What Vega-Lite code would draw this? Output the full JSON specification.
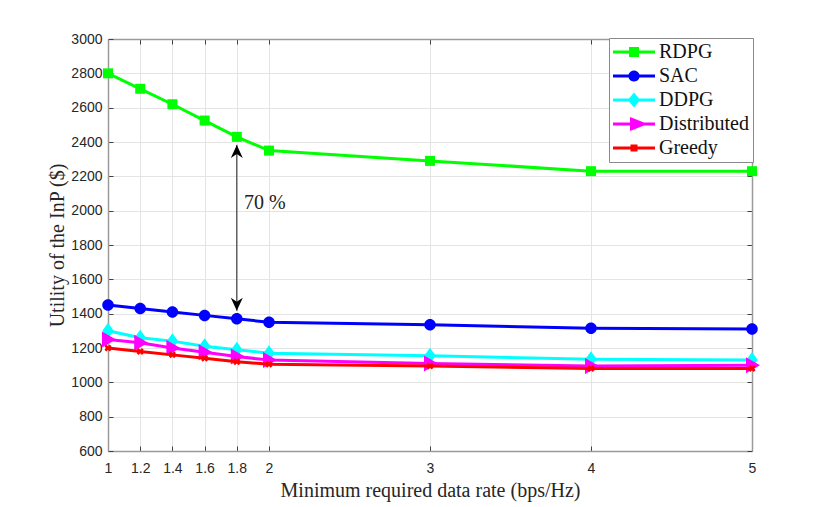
{
  "$schema": "https://vega.github.io/schema/vega-lite/v6.json",
  "background": "white",
  "autosize": "none",
  "padding": {"left": 108, "top": 39, "right": 78, "bottom": 56},
  "width": 644,
  "height": 412,
  "datasets": {
    "series": [
      {"rate": 1, "utility": 2800, "method": "RDPG"},
      {"rate": 1.2, "utility": 2710, "method": "RDPG"},
      {"rate": 1.4, "utility": 2620, "method": "RDPG"},
      {"rate": 1.6, "utility": 2525, "method": "RDPG"},
      {"rate": 1.8, "utility": 2430, "method": "RDPG"},
      {"rate": 2, "utility": 2350, "method": "RDPG"},
      {"rate": 3, "utility": 2290, "method": "RDPG"},
      {"rate": 4, "utility": 2230, "method": "RDPG"},
      {"rate": 5, "utility": 2230, "method": "RDPG"},
      {"rate": 1, "utility": 1450, "method": "SAC"},
      {"rate": 1.2, "utility": 1430, "method": "SAC"},
      {"rate": 1.4, "utility": 1410, "method": "SAC"},
      {"rate": 1.6, "utility": 1390, "method": "SAC"},
      {"rate": 1.8, "utility": 1370, "method": "SAC"},
      {"rate": 2, "utility": 1350, "method": "SAC"},
      {"rate": 3, "utility": 1335, "method": "SAC"},
      {"rate": 4, "utility": 1315, "method": "SAC"},
      {"rate": 5, "utility": 1310, "method": "SAC"},
      {"rate": 1, "utility": 1300, "method": "DDPG"},
      {"rate": 1.2, "utility": 1260, "method": "DDPG"},
      {"rate": 1.4, "utility": 1240, "method": "DDPG"},
      {"rate": 1.6, "utility": 1210, "method": "DDPG"},
      {"rate": 1.8, "utility": 1190, "method": "DDPG"},
      {"rate": 2, "utility": 1170, "method": "DDPG"},
      {"rate": 3, "utility": 1155, "method": "DDPG"},
      {"rate": 4, "utility": 1135, "method": "DDPG"},
      {"rate": 5, "utility": 1130, "method": "DDPG"},
      {"rate": 1, "utility": 1250, "method": "Distributed"},
      {"rate": 1.2, "utility": 1230, "method": "Distributed"},
      {"rate": 1.4, "utility": 1200, "method": "Distributed"},
      {"rate": 1.6, "utility": 1175, "method": "Distributed"},
      {"rate": 1.8, "utility": 1150, "method": "Distributed"},
      {"rate": 2, "utility": 1130, "method": "Distributed"},
      {"rate": 3, "utility": 1110, "method": "Distributed"},
      {"rate": 4, "utility": 1095, "method": "Distributed"},
      {"rate": 5, "utility": 1100, "method": "Distributed"},
      {"rate": 1, "utility": 1200, "method": "Greedy"},
      {"rate": 1.2, "utility": 1180, "method": "Greedy"},
      {"rate": 1.4, "utility": 1160, "method": "Greedy"},
      {"rate": 1.6, "utility": 1140, "method": "Greedy"},
      {"rate": 1.8, "utility": 1120, "method": "Greedy"},
      {"rate": 2, "utility": 1105, "method": "Greedy"},
      {"rate": 3, "utility": 1095, "method": "Greedy"},
      {"rate": 4, "utility": 1080, "method": "Greedy"},
      {"rate": 5, "utility": 1080, "method": "Greedy"}
    ],
    "arrow": [{"rate": 1.8, "top": 2383, "bottom": 1417}],
    "note": [{"rate": 1.845, "utility": 2045, "label": "70 %"}]
  },
  "layer": [
    {
      "data": {"name": "series"},
      "mark": {"type": "point", "opacity": 0},
      "encoding": {
        "x": {
          "field": "rate",
          "type": "quantitative",
          "scale": {"domain": [1, 5], "nice": false},
          "title": "Minimum required data rate (bps/Hz)",
          "axis": {
            "values": [1, 1.2, 1.4, 1.6, 1.8, 2, 3, 4, 5],
            "format": "~g",
            "grid": true,
            "gridColor": "#e4e4e4",
            "gridWidth": 1,
            "domainColor": "#9a9a9a",
            "domainWidth": 1.5,
            "tickColor": "#404040",
            "tickSize": -5,
            "labelPadding": 15,
            "labelFlush": false,
            "labelFont": "Liberation Sans",
            "labelFontSize": 14,
            "labelColor": "#262626",
            "labelAngle": 0,
            "titleFont": "Liberation Serif",
            "titleFontSize": 20,
            "titleFontWeight": "normal",
            "titleColor": "#262626",
            "titlePadding": 5
          }
        },
        "y": {
          "field": "utility",
          "type": "quantitative",
          "scale": {"domain": [600, 3000], "nice": false},
          "title": "Utility of the InP ($)",
          "axis": {
            "values": [600, 800, 1000, 1200, 1400, 1600, 1800, 2000, 2200, 2400, 2600, 2800, 3000],
            "format": "d",
            "grid": true,
            "gridColor": "#e4e4e4",
            "gridWidth": 1,
            "domainColor": "#9a9a9a",
            "domainWidth": 1.5,
            "tickColor": "#404040",
            "tickSize": -5,
            "labelPadding": 11,
            "labelFlush": false,
            "labelFont": "Liberation Sans",
            "labelFontSize": 14,
            "labelColor": "#262626",
            "titleFont": "Liberation Serif",
            "titleFontSize": 20,
            "titleFontWeight": "normal",
            "titleColor": "#262626",
            "titlePadding": 3
          }
        }
      }
    },
    {
      "data": {"name": "series"},
      "mark": {"type": "point", "opacity": 0},
      "encoding": {
        "x": {
          "field": "rate",
          "type": "quantitative",
          "scale": {"domain": [1, 5], "nice": false},
          "axis": {
            "orient": "top",
            "values": [1, 1.2, 1.4, 1.6, 1.8, 2, 3, 4, 5],
            "labels": false,
            "title": null,
            "grid": false,
            "domainColor": "#9a9a9a",
            "domainWidth": 1.5,
            "tickColor": "#404040",
            "tickSize": -5
          }
        },
        "y": {
          "field": "utility",
          "type": "quantitative",
          "scale": {"domain": [600, 3000], "nice": false},
          "axis": {
            "orient": "right",
            "values": [600, 800, 1000, 1200, 1400, 1600, 1800, 2000, 2200, 2400, 2600, 2800, 3000],
            "labels": false,
            "title": null,
            "grid": false,
            "domainColor": "#9a9a9a",
            "domainWidth": 1.5,
            "tickColor": "#404040",
            "tickSize": -5
          }
        }
      }
    },
    {
      "data": {"name": "arrow"},
      "mark": {"type": "rule", "color": "#222222", "strokeWidth": 1},
      "encoding": {
        "x": {"field": "rate", "type": "quantitative", "axis": null},
        "y": {"field": "top", "type": "quantitative", "axis": null},
        "y2": {"field": "bottom"}
      }
    },
    {
      "data": {"name": "arrow"},
      "mark": {"type": "point", "filled": true, "opacity": 1, "color": "black", "size": 100, "strokeWidth": 0, "shape": "M0,0L1.2,2.6L0,1.8L-1.2,2.6Z"},
      "encoding": {
        "x": {"field": "rate", "type": "quantitative", "axis": null},
        "y": {"field": "top", "type": "quantitative", "axis": null}
      }
    },
    {
      "data": {"name": "arrow"},
      "mark": {"type": "point", "filled": true, "opacity": 1, "color": "black", "size": 100, "strokeWidth": 0, "shape": "M0,0L1.2,-2.6L0,-1.8L-1.2,-2.6Z"},
      "encoding": {
        "x": {"field": "rate", "type": "quantitative", "axis": null},
        "y": {"field": "bottom", "type": "quantitative", "axis": null}
      }
    },
    {
      "data": {"name": "note"},
      "mark": {"type": "text", "align": "left", "baseline": "middle", "font": "Liberation Serif", "fontSize": 20, "color": "#222222"},
      "encoding": {
        "x": {"field": "rate", "type": "quantitative", "axis": null},
        "y": {"field": "utility", "type": "quantitative", "axis": null},
        "text": {"field": "label"}
      }
    },
    {
      "data": {"name": "series"},
      "transform": [{"filter": "false"}],
      "mark": {"type": "point", "filled": true, "opacity": 1, "size": 100, "strokeWidth": 0},
      "encoding": {
        "x": {"field": "rate", "type": "quantitative", "axis": null},
        "y": {"field": "utility", "type": "quantitative", "axis": null},
        "color": {
          "field": "method",
          "type": "nominal",
          "scale": {
            "domain": ["RDPG", "SAC", "DDPG", "Distributed", "Greedy"],
            "range": ["#00ff00", "#0000ff", "#00ffff", "#ff00ff", "#ff0000"]
          },
          "legend": {
            "orient": "none",
            "legendX": 501,
            "legendY": -1,
            "title": null,
            "fillColor": "white",
            "strokeColor": "#8a8a8a",
            "padding": 4,
            "symbolSize": 100,
            "labelOffset": 26,
            "labelFont": "Liberation Serif",
            "labelFontSize": 20,
            "labelColor": "#111111",
            "rowPadding": 4
          }
        },
        "shape": {
          "field": "method",
          "type": "nominal",
          "scale": {
            "domain": ["RDPG", "SAC", "DDPG", "Distributed", "Greedy"],
            "range": [
              "M-2,-0.3H1.2V-1H3.2V-0.3H6.4V0.3H3.2V1H1.2V0.3H-2Z",
              "M-2,-0.3H1.1A1.15,1.15 0 0 1 3.3,-0.3H6.4V0.3H3.3A1.15,1.15 0 0 1 1.1,0.3H-2Z",
              "M-2,-0.3H1.2L2.2,-1.5L3.2,-0.3H6.4V0.3H3.2L2.2,1.5L1.2,0.3H-2Z",
              "M-2,-0.3H1.4V-1.4L4.2,-0.3H6.4V0.3H4.2L1.4,1.4V0.3H-2Z",
              "M-2,-0.3H1.5V-0.7H2.9V-0.3H6.4V0.3H2.9V0.7H1.5V0.3H-2Z"
            ]
          }
        }
      }
    },
    {
      "data": {"name": "series"},
      "transform": [{"filter": "datum.method === 'RDPG'"}],
      "encoding": {
        "x": {"field": "rate", "type": "quantitative", "axis": null},
        "y": {"field": "utility", "type": "quantitative", "axis": null}
      },
      "layer": [
        {"mark": {"type": "line", "strokeWidth": 3, "color": "#00ff00"}},
        {"mark": {"type": "point", "filled": true, "opacity": 1, "size": 100, "strokeWidth": 0, "color": "#00ff00", "shape": "M-1,-1H1V1H-1Z"}}
      ]
    },
    {
      "data": {"name": "series"},
      "transform": [{"filter": "datum.method === 'SAC'"}],
      "encoding": {
        "x": {"field": "rate", "type": "quantitative", "axis": null},
        "y": {"field": "utility", "type": "quantitative", "axis": null}
      },
      "layer": [
        {"mark": {"type": "line", "strokeWidth": 3, "color": "#0000ff"}},
        {"mark": {"type": "point", "filled": true, "opacity": 1, "size": 100, "strokeWidth": 0, "color": "#0000ff", "shape": "M-1.15,0A1.15,1.15 0 1 1 1.15,0A1.15,1.15 0 1 1 -1.15,0Z"}}
      ]
    },
    {
      "data": {"name": "series"},
      "transform": [{"filter": "datum.method === 'DDPG'"}],
      "encoding": {
        "x": {"field": "rate", "type": "quantitative", "axis": null},
        "y": {"field": "utility", "type": "quantitative", "axis": null}
      },
      "layer": [
        {"mark": {"type": "line", "strokeWidth": 3, "color": "#00ffff"}},
        {"mark": {"type": "point", "filled": true, "opacity": 1, "size": 100, "strokeWidth": 0, "color": "#00ffff", "shape": "M0,-1.6L1.15,0L0,1.6L-1.15,0Z"}}
      ]
    },
    {
      "data": {"name": "series"},
      "transform": [{"filter": "datum.method === 'Distributed'"}],
      "encoding": {
        "x": {"field": "rate", "type": "quantitative", "axis": null},
        "y": {"field": "utility", "type": "quantitative", "axis": null}
      },
      "layer": [
        {"mark": {"type": "line", "strokeWidth": 3, "color": "#ff00ff"}},
        {"mark": {"type": "point", "filled": true, "opacity": 1, "size": 100, "strokeWidth": 0, "color": "#ff00ff", "shape": "M-1.2,-1.6L1.6,0L-1.2,1.6Z"}}
      ]
    },
    {
      "data": {"name": "series"},
      "transform": [{"filter": "datum.method === 'Greedy'"}],
      "encoding": {
        "x": {"field": "rate", "type": "quantitative", "axis": null},
        "y": {"field": "utility", "type": "quantitative", "axis": null}
      },
      "layer": [
        {"mark": {"type": "line", "strokeWidth": 3, "color": "#ff0000"}},
        {"mark": {"type": "point", "filled": true, "opacity": 1, "size": 100, "strokeWidth": 0, "color": "#ff0000", "shape": "M-0.7,-0.35L-0.35,-0.7L0,-0.35L0.35,-0.7L0.7,-0.35L0.45,0L0.7,0.35L0.35,0.7L0,0.35L-0.35,0.7L-0.7,0.35L-0.45,0Z"}}
      ]
    }
  ],
  "resolve": {"axis": {"x": "independent", "y": "independent"}},
  "config": {"view": {"stroke": null}}
}
